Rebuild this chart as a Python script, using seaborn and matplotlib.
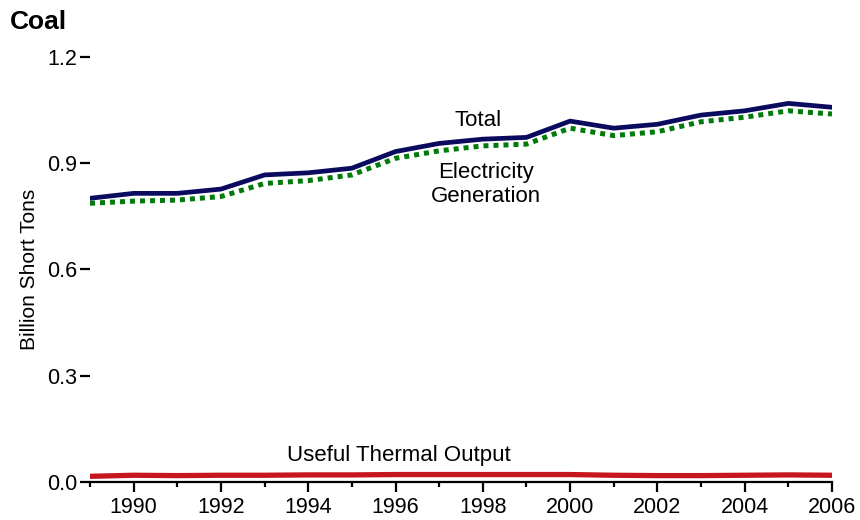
import matplotlib.pyplot as plt
import matplotlib.ticker as mticker
import numpy as np
import pandas as pd
import seaborn as sns

years = list(range(1989, 2007))
total = [0.801, 0.815, 0.815, 0.827, 0.867, 0.873, 0.886, 0.933, 0.956, 0.968,
         0.973, 1.019, 0.999, 1.010, 1.036, 1.048, 1.069, 1.058]
electricity = [0.787, 0.793, 0.796, 0.806, 0.843, 0.851, 0.867, 0.914, 0.935, 0.949,
               0.954, 0.999, 0.978, 0.989, 1.017, 1.030, 1.048, 1.039]
thermal = [0.016, 0.019, 0.018, 0.019, 0.019, 0.020, 0.020, 0.021, 0.021, 0.021,
           0.021, 0.021, 0.019, 0.018, 0.018, 0.019, 0.020, 0.019]

sns.set_style("white")
plt.rcParams['font.family'] = ['Liberation Sans', 'DejaVu Sans']
plt.rcParams['text.color'] = 'black'
plt.rcParams['axes.labelcolor'] = 'black'
plt.rcParams['xtick.color'] = 'black'
plt.rcParams['ytick.color'] = 'black'

df = pd.DataFrame({'Year': years, 'Total': total,
                   'Electricity': electricity, 'Thermal': thermal})

fig = plt.figure(figsize=(8.6, 5.2), dpi=100)
ax = fig.add_axes([0.1047, 0.0731, 0.8627, 0.8173])

sns.lineplot(data=df, x='Year', y='Thermal', ax=ax, color='#c4161c', lw=3.8)
sns.lineplot(data=df, x='Year', y='Electricity', ax=ax, color='#007a0a', lw=3.6)
ax.lines[-1].set_linestyle((0, (1, 1)))
ax.lines[-1].set_dash_capstyle('butt')
sns.lineplot(data=df, x='Year', y='Total', ax=ax, color='#0a0a5e', lw=3.4)

ax.set_xlim(1989, 2006)
ax.set_ylim(0, 1.2)
ax.set_yticks([0.0, 0.3, 0.6, 0.9, 1.2])
ax.yaxis.set_major_formatter(mticker.FormatStrFormatter('%.1f'))
ax.set_xticks(range(1990, 2007, 2))
ax.xaxis.set_minor_locator(mticker.FixedLocator(range(1989, 2007, 2)))

for s in ['top', 'right', 'left']:
    ax.spines[s].set_visible(False)
ax.spines['bottom'].set_linewidth(1.6)
ax.spines['bottom'].set_color('black')

ax.tick_params(axis='x', which='major', length=7, width=1.6,
               labelsize=15.5, pad=4, direction='out', bottom=True)
ax.tick_params(axis='x', which='minor', length=3.5, width=1.6,
               direction='out', bottom=True)
ax.tick_params(axis='y', length=7, width=1.6, labelsize=15.5,
               pad=2, direction='out', left=True)

ax.set_xlabel('')
ax.set_ylabel('Billion Short Tons', fontsize=15, labelpad=6)
fig.text(0.012, 0.957, 'Coal', fontsize=19, fontweight='bold', va='center')

ax.text(1997.9, 1.022, 'Total', fontsize=16, ha='center', va='center')
ax.text(1998.07, 0.839, 'Electricity\nGeneration', fontsize=16, ha='center',
        va='center', linespacing=1.2)
ax.text(1996.08, 0.076, 'Useful Thermal Output', fontsize=16, ha='center', va='center')

fig.savefig('out.png', dpi=100)
